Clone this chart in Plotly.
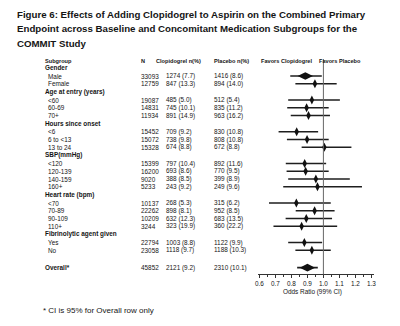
import plotly.graph_objects as go

# ---------------- data ----------------
title_lines = [
    "Figure 6: Effects of Adding Clopidogrel to Aspirin on the Combined Primary",
    "Endpoint across Baseline and Concomitant Medication Subgroups for the",
    "COMMIT Study",
]
col_headers = ["Subgroup", "N", "Clopidogrel n(%)", "Placebo n(%)"]
favors_left = "Favors Clopidogrel"
favors_right = "Favors Placebo"

categories = ["Gender", "Age at entry (years)", "Hours since onset", "SBP(mmHg)",
              "Heart rate (bpm)", "Fibrinolytic agent given"]
subgroup_category = [0, 0, 1, 1, 1, 2, 2, 2, 3, 3, 3, 3, 4, 4, 4, 4, 5, 5]
subgroups = ["Male", "Female", "<60", "60-69", "70+", "<6", "6 to <13", "13 to 24",
             "<120", "120-139", "140-159", "160+", "<70", "70-89", "90-109", "110+",
             "Yes", "No"]
n_pts = [33093, 12759, 19087, 14831, 11934, 15452, 15072, 15328,
         15399, 16200, 9020, 5233, 10137, 22262, 10209, 3244, 22794, 23058]
clop_events = [1274, 847, 485, 745, 891, 709, 738, 674,
               797, 693, 388, 243, 268, 898, 632, 323, 1003, 1118]
clop_pct = [7.7, 13.3, 5.0, 10.1, 14.9, 9.2, 9.8, 8.8,
            10.4, 8.6, 8.5, 9.2, 5.3, 8.1, 12.3, 19.9, 8.8, 9.7]
plac_events = [1416, 894, 512, 835, 963, 830, 808, 672,
               892, 770, 399, 249, 315, 952, 683, 360, 1122, 1188]
plac_pct = [8.6, 14.0, 5.4, 11.2, 16.2, 10.8, 10.8, 8.8,
            11.6, 9.5, 8.9, 9.6, 6.2, 8.5, 13.5, 22.2, 9.9, 10.3]
odds_ratio = [0.887, 0.947, 0.928, 0.895, 0.907, 0.833, 0.898, 1.006,
              0.883, 0.889, 0.953, 0.963, 0.831, 0.945, 0.893, 0.864, 0.881, 0.928]
ci_low = [0.793, 0.825, 0.780, 0.774, 0.796, 0.720, 0.772, 0.864,
          0.765, 0.770, 0.780, 0.749, 0.660, 0.827, 0.764, 0.688, 0.780, 0.825]
ci_high = [0.990, 1.083, 1.103, 1.033, 1.041, 0.967, 1.033, 1.175,
           1.017, 1.033, 1.165, 1.241, 1.046, 1.070, 1.054, 1.086, 0.992, 1.046]

overall_label = "Overall*"
overall_n = 45852
overall_clop = (2121, 9.2)
overall_plac = (2310, 10.1)
overall_or, overall_lo, overall_hi = 0.900, 0.836, 0.965

tick_vals = [0.6, 0.7, 0.8, 0.9, 1.0, 1.1, 1.2, 1.3]
tick_text = ["0.6", "0.7", "0.8", "0.9", "1.0", "1.1", "1.2", "1.3"]
axis_title = "Odds Ratio (99% CI)"
footnote = "* CI is 95% for Overall row only"

# ---------------- styling / layout constants ----------------
W, H = 400, 326
SANS = "Liberation Sans, Arial, sans-serif"
INK = "#151515"
BIG_MARKER_ROWS = {"Male"}

FIRST_ROW_Y = 67.5
HEADER_GAP = 8.5
ROW_GAP = 7.75
OVERALL_GAP = 17.4
HEADER_ROW_Y = 60.8
AXIS_Y = 274.3

X_LABEL_CAT = 41
X_LABEL_SUB = 44
X_N = 138
X_CLOP_HDR = 153
X_CLOP = 163
X_PLAC = 211.5

BODY = 6.4
HDR = 5.6

rows = []
y = FIRST_ROW_Y
prev_kind = None
for ci, cat in enumerate(categories):
    if prev_kind is not None:
        y += ROW_GAP
    rows.append(("cat", cat, None, y))
    prev_kind = "cat"
    for si, cidx in enumerate(subgroup_category):
        if cidx != ci:
            continue
        y += HEADER_GAP if prev_kind == "cat" else ROW_GAP
        rows.append(("sub", subgroups[si], si, y))
        prev_kind = "sub"
overall_y = y + OVERALL_GAP
sub_y = {r[2]: r[3] for r in rows if r[0] == "sub"}

fig = go.Figure()

lx, ly = [], []
for i in range(len(subgroups)):
    lx += [ci_low[i], ci_high[i], None]
    ly += [sub_y[i], sub_y[i], None]
lx += [overall_lo, overall_hi]
ly += [overall_y, overall_y]
fig.add_trace(go.Scatter(x=lx, y=ly, mode="lines",
                         line=dict(color="#1e1e1e", width=1.6),
                         hoverinfo="skip", showlegend=False))

small_idx = [i for i in range(len(subgroups)) if subgroups[i] not in BIG_MARKER_ROWS]
big_idx = [i for i in range(len(subgroups)) if subgroups[i] in BIG_MARKER_ROWS]
fig.add_trace(go.Scatter(x=[odds_ratio[i] for i in small_idx],
                         y=[sub_y[i] for i in small_idx], mode="markers",
                         marker=dict(symbol="diamond-tall", size=6.5, color="#111"),
                         showlegend=False))
fig.add_trace(go.Scatter(x=[odds_ratio[i] for i in big_idx] + [overall_or],
                         y=[sub_y[i] for i in big_idx] + [overall_y], mode="markers",
                         marker=dict(symbol="diamond-wide", size=11, color="#111"),
                         showlegend=False))

fig.add_shape(type="line", x0=1.0, x1=1.0, y0=59, y1=AXIS_Y, xref="x", yref="y",
              line=dict(color="#666", width=1))

ann = []
def txt(x, yv, s, size=BODY, bold=False, xanchor="left"):
    if bold:
        s = "<b>" + s + "</b>"
    ann.append(dict(x=x / W, xref="paper", y=yv, yref="y", text=s, showarrow=False,
                    xanchor=xanchor, yanchor="middle",
                    font=dict(family=SANS, size=size, color=INK)))

for k, line in enumerate(title_lines):
    txt(12, 14.7 + k * 14.2, line, size=9.7, bold=True)

txt(X_LABEL_CAT, HEADER_ROW_Y, col_headers[0], size=HDR, bold=True)
txt(X_N, HEADER_ROW_Y, col_headers[1], size=HDR, bold=True)
txt(X_CLOP_HDR, HEADER_ROW_Y, col_headers[2], size=HDR, bold=True)
txt(X_PLAC, HEADER_ROW_Y, col_headers[3], size=HDR, bold=True)
txt(315, HEADER_ROW_Y, favors_left, size=HDR, bold=True, xanchor="right")
txt(318, HEADER_ROW_Y, favors_right, size=HDR, bold=True)

for kind, label, si, yv in rows:
    if kind == "cat":
        txt(X_LABEL_CAT, yv, label, size=BODY, bold=True)
    else:
        txt(X_LABEL_SUB, yv, label)
        txt(X_N, yv, str(n_pts[si]))
        txt(X_CLOP, yv, f"{clop_events[si]} ({clop_pct[si]:.1f})")
        txt(X_PLAC, yv, f"{plac_events[si]} ({plac_pct[si]:.1f})")

txt(X_LABEL_CAT, overall_y, overall_label, bold=True)
txt(X_N, overall_y, str(overall_n))
txt(X_CLOP, overall_y, f"{overall_clop[0]} ({overall_clop[1]:.1f})")
txt(X_PLAC, overall_y, f"{overall_plac[0]} ({overall_plac[1]:.1f})")

txt(313, 292, axis_title, size=6.4, xanchor="center")
txt(38, 310, footnote, size=8)

fig.update_layout(
    width=W, height=H, margin=dict(l=0, r=0, t=0, b=0),
    paper_bgcolor="white", plot_bgcolor="white",
    annotations=ann, showlegend=False,
    xaxis=dict(domain=[258 / W, 376 / W], range=[0.59, 1.318], anchor="free",
               position=(H - AXIS_Y) / H, showline=True, linecolor="#333",
               linewidth=1, ticks="outside", ticklen=3, tickcolor="#333",
               tickvals=tick_vals, ticktext=tick_text, showgrid=False,
               zeroline=False, tickfont=dict(family=SANS, size=6.4, color=INK),
               minor=dict(dtick=0.05, tick0=0.6, ticks="outside", ticklen=2,
                          tickcolor="#333", showgrid=False),
               fixedrange=True),
    yaxis=dict(domain=[0, 1], range=[H, 0], visible=False, fixedrange=True),
)

fig.write_html("out.html")
